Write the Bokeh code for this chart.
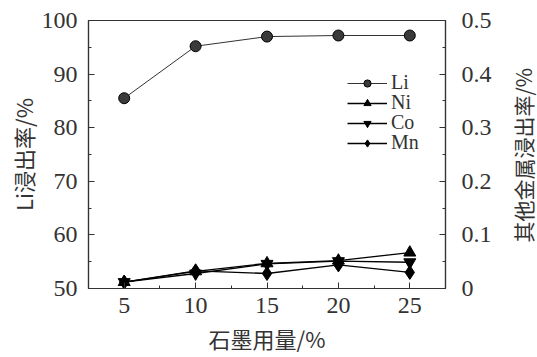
from bokeh.plotting import figure
from bokeh.layouts import row
from bokeh.models import Range1d, LinearAxis, Legend, LegendItem, FixedTicker, Div
from bokeh.embed import file_html
from bokeh.resources import INLINE

x = [5, 10, 15, 20, 25]
li = [85.5, 95.2, 97.0, 97.2, 97.2]
ni = [0.012, 0.032, 0.047, 0.052, 0.067]
co = [0.012, 0.028, 0.046, 0.051, 0.049]
mn = [0.012, 0.033, 0.028, 0.044, 0.030]

x_ticks = [5, 10, 15, 20, 25]
left_ticks = [50, 60, 70, 80, 90, 100]
right_ticks = [0, 0.1, 0.2, 0.3, 0.4, 0.5]
right_labels = {0: "0", 0.1: "0.1", 0.2: "0.2", 0.3: "0.3", 0.4: "0.4", 0.5: "0.5"}
right_title = "其他金属浸出率/%"

SERIF = "serif"
CJK = "Noto Sans CJK SC"
AX = "#333333"

p = figure(width=500, height=357, output_backend="svg", toolbar_location=None,
           x_range=Range1d(2.5, 27.5), y_range=Range1d(50, 100),
           min_border_left=88, min_border_right=55, min_border_top=20, min_border_bottom=69)
p.extra_y_ranges = {"r": Range1d(0, 0.5)}
p.grid.visible = False
p.outline_line_color = AX
p.outline_line_width = 1.2
p.background_fill_color = "white"

def style(ax):
    ax.axis_line_color = AX
    ax.axis_line_width = 1.2
    ax.major_tick_line_color = AX
    ax.minor_tick_line_color = AX
    ax.major_tick_in = 6
    ax.major_tick_out = 0
    ax.minor_tick_in = 3
    ax.minor_tick_out = 0
    ax.major_label_text_font = SERIF
    ax.major_label_text_font_size = "24px"
    ax.major_label_text_color = AX
    ax.axis_label_text_font = CJK
    ax.axis_label_text_font_size = "22px"
    ax.axis_label_text_font_style = "normal"
    ax.axis_label_text_color = AX

p.xaxis.ticker = FixedTicker(ticks=x_ticks, minor_ticks=[2.5, 7.5, 12.5, 17.5, 22.5, 27.5])
p.xaxis.axis_label = "石墨用量/%"
p.xaxis.major_label_standoff = 9
p.xaxis.axis_label_standoff = 6
style(p.xaxis[0])

p.yaxis.ticker = FixedTicker(ticks=left_ticks, minor_ticks=[55, 65, 75, 85, 95])
p.yaxis.axis_label = "Li浸出率/%"
p.yaxis.major_label_standoff = 11
p.yaxis.axis_label_standoff = 0
style(p.yaxis[0])

rax = LinearAxis(y_range_name="r",
                 ticker=FixedTicker(ticks=right_ticks, minor_ticks=[0.05, 0.15, 0.25, 0.35, 0.45]))
rax.major_label_overrides = right_labels
rax.major_label_standoff = 16
style(rax)
p.add_layout(rax, "right")

l1 = p.line(x, li, line_color="#333333", line_width=1)
s1 = p.scatter(x, li, marker="circle", size=11, fill_color="#3a3a3a", line_color="black", line_width=1)
l2 = p.line(x, ni, y_range_name="r", line_color="black", line_width=1.3)
s2 = p.scatter(x, ni, y_range_name="r", marker="triangle", size=12, fill_color="black", line_color="black")
l3 = p.line(x, co, y_range_name="r", line_color="black", line_width=1.3)
s3 = p.scatter(x, co, y_range_name="r", marker="inverted_triangle", size=12, fill_color="black", line_color="black")
l4 = p.line(x, mn, y_range_name="r", line_color="black", line_width=1.3)
s4 = p.scatter(x, mn, y_range_name="r", marker="diamond", size=14, fill_color="black", line_color="black")

entries = [("Li", [l1, s1]), ("Ni", [l2, s2]), ("Co", [l3, s3]), ("Mn", [l4, s4])]
for i, (name, rends) in enumerate(entries):
    lg = Legend(items=[LegendItem(label=name, renderers=rends)], location=(259, 194 - 20 * i))
    lg.background_fill_alpha = 0
    lg.border_line_alpha = 0
    lg.label_text_font = SERIF
    lg.label_text_font_size = "20px"
    lg.label_text_color = AX
    lg.glyph_width = 40
    lg.glyph_height = 18
    lg.label_height = 18
    lg.padding = 0
    lg.margin = 0
    lg.label_standoff = 4
    p.add_layout(lg, "center")

html = ('<div style="width:37px;height:%dpx;display:flex;align-items:center;justify-content:center;">'
        '<span style="writing-mode:vertical-rl;text-orientation:sideways;transform:rotate(180deg);'
        'font-family:\'%s\';font-size:21px;line-height:1.2;color:%s;white-space:nowrap;">%s</span></div>') % (
    300, CJK, AX, right_title)
div = Div(text=html, width=37, height=357)

layout = row(p, div, spacing=0)
open("out.html", "w").write(file_html(layout, INLINE))
